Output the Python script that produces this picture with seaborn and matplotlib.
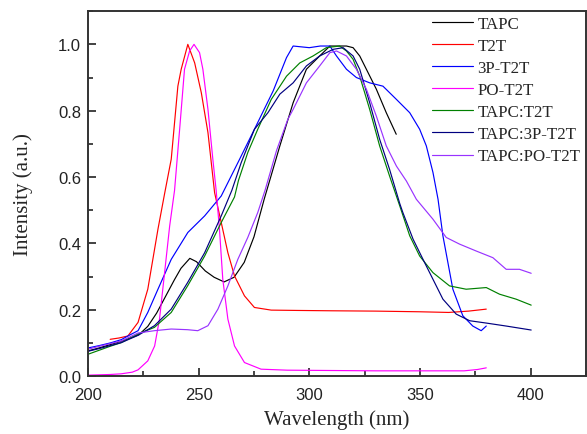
import numpy as np
import pandas as pd
import matplotlib
matplotlib.use("Agg")
import matplotlib.pyplot as plt
import seaborn as sns
from matplotlib.ticker import MultipleLocator

# values (wavelength nm, normalised intensity)
tapc_x = [200, 205, 210, 215, 220, 223, 227, 231, 235, 239, 242, 246, 249, 253, 257, 261.5, 266, 270.6, 275,
          279.6, 283, 286.7, 292.7, 298.7, 304.7, 309.3, 316.8, 319.8, 322.8, 325.8, 330.3, 334.8, 339.3]
tapc_y = [0.076, 0.085, 0.095, 0.105, 0.117, 0.125, 0.15, 0.19, 0.24, 0.29, 0.325, 0.355, 0.345, 0.317, 0.298,
          0.284, 0.298, 0.343, 0.42, 0.533, 0.61, 0.694, 0.824, 0.925, 0.965, 0.995, 0.995, 0.99, 0.965, 0.925,
          0.865, 0.794, 0.729]

t2t_x = [210, 214, 218, 222.6, 227, 231.6, 234.6, 237.6, 240.6, 242.1, 245.1, 248.2, 251.2, 254.2, 257.2, 260.2,
         263.2, 266.2, 270.7, 275.2, 282.8, 295, 310, 330, 350, 363, 372, 380]
t2t_y = [0.111, 0.115, 0.121, 0.162, 0.262, 0.443, 0.55, 0.654, 0.874, 0.925, 1.0, 0.944, 0.854, 0.734, 0.553,
         0.463, 0.372, 0.302, 0.242, 0.207, 0.199, 0.198, 0.197, 0.196, 0.194, 0.192, 0.196, 0.202]

p3_x = [200, 205, 210, 215, 218, 222.6, 227, 231.6, 237.6, 245.1, 252.7, 260.2, 267.7, 275.2, 283.7, 289.7, 292.7,
        300, 305, 309.3, 312.3, 316.8, 321.3, 327.3, 333.3, 339.4, 345.4, 349.9, 352.9, 355.9, 358.2, 360.4, 364.9,
        369.4, 373.9, 377.7, 380]
p3_y = [0.085, 0.092, 0.1, 0.11, 0.121, 0.137, 0.192, 0.262, 0.352, 0.433, 0.483, 0.543, 0.643, 0.744, 0.86,
        0.96, 0.995, 0.99, 0.995, 0.995, 0.965, 0.925, 0.9, 0.884, 0.874, 0.834, 0.794, 0.744, 0.694, 0.614, 0.533,
        0.423, 0.262, 0.182, 0.151, 0.137, 0.151]

po_x = [200, 210, 215, 220, 222.6, 227, 230.1, 232.3, 234.6, 236.9, 239.1, 241.4, 243.6, 245.9, 247.9, 250.4,
        251.9, 254.2, 256.4, 257.9, 259.4, 260.9, 263.2, 266.2, 270.7, 278.2, 290, 310, 330, 350, 370, 376, 380]
po_y = [0.003, 0.005, 0.007, 0.012, 0.019, 0.046, 0.091, 0.172, 0.312, 0.453, 0.56, 0.744, 0.925, 0.98, 1.0,
        0.975, 0.925, 0.804, 0.654, 0.56, 0.443, 0.292, 0.172, 0.091, 0.041, 0.021, 0.018, 0.017, 0.016, 0.016,
        0.016, 0.02, 0.025]

mix_t2t_x = [200, 205, 210, 215, 222.6, 230, 237.6, 245, 252.7, 260.2, 266.2, 268, 272.2, 276.7, 282.8, 289.7,
             295.7, 301.7, 307.7, 313.7, 316.8, 319.8, 322.8, 327.3, 331.8, 336.3, 340.9, 345.4, 349.9, 355.9,
             363.4, 370.9, 380, 386, 393.5, 400.3]
mix_t2t_y = [0.066, 0.078, 0.09, 0.101, 0.127, 0.147, 0.192, 0.272, 0.362, 0.463, 0.54, 0.59, 0.674, 0.744,
             0.834, 0.904, 0.944, 0.965, 0.99, 0.995, 0.98, 0.955, 0.904, 0.804, 0.694, 0.603, 0.513, 0.423,
             0.362, 0.312, 0.272, 0.262, 0.267, 0.247, 0.232, 0.214]

mix_3p_x = [200, 205, 210, 215, 222.6, 230, 237.6, 245, 252.7, 260.2, 265, 269.2, 275.2, 281.3, 286.7, 292.7,
            298.7, 304.7, 310.8, 315.3, 319.8, 322.8, 327.3, 331.8, 336.3, 340.9, 342.3, 346.9, 351.4, 355.9,
            360.4, 366.4, 372.5, 380, 389, 400.3]
mix_3p_y = [0.075, 0.083, 0.092, 0.101, 0.123, 0.152, 0.202, 0.282, 0.372, 0.483, 0.56, 0.643, 0.744, 0.794,
            0.85, 0.884, 0.935, 0.965, 0.985, 0.99, 0.965, 0.925, 0.824, 0.714, 0.623, 0.52, 0.493, 0.413, 0.352,
            0.292, 0.232, 0.187, 0.167, 0.16, 0.151, 0.139]

mix_po_x = [200, 205, 210, 215, 222.6, 230, 237.6, 245, 249.6, 254.2, 258.7, 263.2, 267.7, 272.2, 276.7, 280,
            285.2, 290.3, 292.7, 298.7, 304.7, 309.3, 312.3, 316.8, 321.3, 325.8, 330.3, 334.8, 339.4, 343.9,
            348.4, 355.9, 361.9, 367.9, 375.5, 383, 389, 395, 400.3]
mix_po_y = [0.081, 0.09, 0.098, 0.106, 0.13, 0.137, 0.142, 0.14, 0.137, 0.152, 0.202, 0.272, 0.352, 0.418,
            0.493, 0.56, 0.68, 0.774, 0.804, 0.884, 0.935, 0.975, 0.98, 0.965, 0.925, 0.865, 0.784, 0.694, 0.633,
            0.588, 0.533, 0.473, 0.418, 0.398, 0.377, 0.357, 0.322, 0.322, 0.31]

labels = ["TAPC", "T2T", "3P-T2T", "PO-T2T", "TAPC:T2T", "TAPC:3P-T2T", "TAPC:PO-T2T"]
colors = ["#000000", "#ff0000", "#0000ff", "#ff00ff", "#008000", "#000080", "#9933ff"]
xs = [tapc_x, t2t_x, p3_x, po_x, mix_t2t_x, mix_3p_x, mix_po_x]
ys = [tapc_y, t2t_y, p3_y, po_y, mix_t2t_y, mix_3p_y, mix_po_y]

sns.set_style("ticks")
plt.rcParams["font.family"] = ["Liberation Sans", "DejaVu Sans"]

fig = plt.figure(figsize=(5.87, 4.35), dpi=100)
ax = fig.add_axes([0.15, 0.133, 0.848, 0.839])

for x, y, lab, col in zip(xs, ys, labels, colors):
    df = pd.DataFrame({"wl": x, "inten": y})
    sns.lineplot(data=df, x="wl", y="inten", color=col, label=lab, lw=0.85,
                 estimator=None, sort=False, ax=ax)

ax.set_xlim(200, 425)
ax.set_ylim(0, 1.1)
ax.xaxis.set_major_locator(MultipleLocator(50))
ax.xaxis.set_minor_locator(MultipleLocator(25))
ax.yaxis.set_major_locator(MultipleLocator(0.2))
ax.yaxis.set_minor_locator(MultipleLocator(0.1))
ax.set_xticks([200, 250, 300, 350, 400])
ax.tick_params(which="major", direction="in", length=6, width=1.2, labelsize=12, colors="#222222")
ax.tick_params(axis="x", which="major", pad=8)
ax.tick_params(axis="y", which="major", pad=5)
ax.tick_params(which="minor", direction="in", length=3.5, width=1.2)
ax.yaxis.set_major_formatter(matplotlib.ticker.FormatStrFormatter("%.1f"))
for s in ax.spines.values():
    s.set_linewidth(1.4)
    s.set_color("#333333")

ax.set_xlabel("Wavelength (nm)", fontsize=15, family="Liberation Serif", labelpad=5)
ax.set_ylabel("Intensity (a.u.)", fontsize=15, family="Liberation Serif", labelpad=18)

leg = ax.legend(loc="upper left", bbox_to_anchor=(420 / 587, 1 - 5 / 435), bbox_transform=fig.transFigure,
                frameon=False, prop={"family": "Liberation Serif", "size": 12.2},
                handlelength=2.4, labelspacing=0.36, handletextpad=0.3, borderpad=0.2)

fig.savefig("out.png", dpi=100)
